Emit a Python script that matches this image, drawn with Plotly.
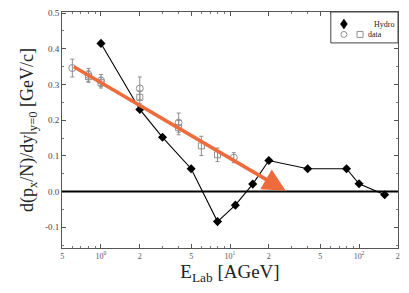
import math
import plotly.graph_objects as go

# Hydro calculation
hydro_x = [1.0, 2.0, 3.0, 5.0, 8.0, 11.0, 15.0, 20.0, 40.0, 80.0, 100.0, 158.0]
hydro_y = [0.415, 0.23, 0.152, 0.064, -0.084, -0.038, 0.021, 0.087, 0.064, 0.064, 0.022, -0.009]

# Data (open circles)
circ_x = [0.6, 0.8, 1.0, 2.0, 4.0, 10.7]
circ_y = [0.346, 0.327, 0.311, 0.289, 0.193, 0.095]
circ_err = [0.025, 0.018, 0.017, 0.032, 0.027, 0.014]

# Data (open squares)
sq_x = [0.8, 1.0, 2.0, 4.0, 6.0, 8.0]
sq_y = [0.322, 0.305, 0.264, 0.179, 0.128, 0.103]
sq_err = [0.016, 0.015, 0.018, 0.02, 0.027, 0.019]

# Arrow (tail, head) in data units
arrow_tail = [0.6, 0.352]
arrow_head = [27.0, 0.002]

x_tickvals = [0.5, 1, 2, 5, 10, 20, 50, 100, 200]
x_ticktext = ["5", "10<sup>0</sup>", "2", "5", "10<sup>1</sup>", "2", "5", "10<sup>2</sup>", "2"]
x_minor = [0.6, 0.7, 0.8, 0.9, 3, 4, 6, 7, 8, 9, 30, 40, 60, 70, 80, 90]
y_tickvals = [-0.1, 0.0, 0.1, 0.2, 0.3, 0.4, 0.5]
y_ticktext = ["-0.1", "0.0", "0.1", "0.2", "0.3", "0.4", "0.5"]
y_minor = [-0.15, -0.05, 0.05, 0.15, 0.25, 0.35, 0.45]

serif = "Liberation Serif"
gray = "#8f8f8f"

fig = go.Figure()

fig.add_trace(go.Scatter(
    x=circ_x, y=circ_y, mode="markers", name="data",
    marker=dict(symbol="circle-open", size=7, color=gray, line=dict(width=1)),
    error_y=dict(type="data", array=circ_err, color=gray, thickness=1, width=2),
))
fig.add_trace(go.Scatter(
    x=sq_x, y=sq_y, mode="markers", name="data",
    marker=dict(symbol="square-open", size=6, color=gray, line=dict(width=1)),
    error_y=dict(type="data", array=sq_err, color=gray, thickness=1, width=2),
))
fig.add_trace(go.Scatter(
    x=hydro_x, y=hydro_y, mode="lines+markers", name="Hydro",
    line=dict(color="black", width=1.1),
    marker=dict(symbol="diamond", size=7, color="black"),
))

# zero line
fig.add_shape(type="line", xref="paper", yref="y", x0=0, x1=1, y0=0, y1=0,
              line=dict(color="black", width=2))

# orange arrow (annotation positions on log axis are given in log10 units)
fig.add_annotation(
    x=math.log10(arrow_head[0]), y=arrow_head[1],
    ax=math.log10(arrow_tail[0]), ay=arrow_tail[1],
    xref="x", yref="y", axref="x", ayref="y",
    showarrow=True, arrowhead=2, arrowsize=1.3, arrowwidth=3.5,
    arrowcolor="#EE6B3B", text="",
)

# legend box
fig.add_shape(type="rect", xref="paper", yref="paper", x0=0.80, x1=1.0, y0=0.869, y1=1.0,
              line=dict(color="#444", width=1), fillcolor="white", layer="above")
fig.add_shape(type="path", xref="paper", yref="paper", xsizemode="pixel", ysizemode="pixel",
              xanchor=0.839, yanchor=0.949,
              path="M 0 -5 L 3.5 0 L 0 5 L -3.5 0 Z",
              fillcolor="black", line=dict(color="black", width=0.5), layer="above")
fig.add_shape(type="circle", xref="paper", yref="paper", xsizemode="pixel", ysizemode="pixel",
              xanchor=0.839, yanchor=0.905, x0=-3, x1=3, y0=-3, y1=3,
              line=dict(color=gray, width=1), layer="above")
fig.add_shape(type="rect", xref="paper", yref="paper", xsizemode="pixel", ysizemode="pixel",
              xanchor=0.887, yanchor=0.905, x0=-3, x1=3, y0=-3, y1=3,
              line=dict(color=gray, width=1), layer="above")
fig.add_annotation(xref="paper", yref="paper", x=0.993, y=0.949, text="Hydro", showarrow=False,
                   xanchor="right", yanchor="middle", font=dict(size=8, color="#222", family=serif))
fig.add_annotation(xref="paper", yref="paper", x=0.905, y=0.905, text="data", showarrow=False,
                   xanchor="left", yanchor="middle", font=dict(size=8, color="#222", family=serif))

fig.update_xaxes(
    type="log", range=[-0.302, 2.302],
    tickmode="array", tickvals=x_tickvals, ticktext=x_ticktext,
    ticks="inside", ticklen=4, tickcolor="#555",
    minor=dict(tickvals=x_minor, ticks="inside", ticklen=2, tickcolor="#777"),
    showline=True, linecolor="#555", linewidth=1, mirror="ticks",
    showgrid=False, zeroline=False,
    tickfont=dict(family=serif, size=8, color="#555"),
    title=dict(text="E<sub>Lab</sub> [AGeV]", font=dict(family=serif, size=19, color="#222"), standoff=2),
    automargin=False,
)
fig.update_yaxes(
    range=[-0.158, 0.503],
    tickmode="array", tickvals=y_tickvals, ticktext=y_ticktext,
    ticks="inside", ticklen=4, tickcolor="#555",
    minor=dict(tickvals=y_minor, ticks="inside", ticklen=2, tickcolor="#777"),
    showline=True, linecolor="#555", linewidth=1, mirror="ticks",
    showgrid=False, zeroline=False,
    tickfont=dict(family=serif, size=9, color="#444"),
    title=dict(text="d(p<sub>x</sub>/N)/dy|<sub>y=0</sub> [GeV/c]",
               font=dict(family=serif, size=18, color="#222"), standoff=6),
    automargin=False,
)

fig.update_layout(
    width=409, height=293,
    margin=dict(l=62, r=11, t=12, b=45),
    plot_bgcolor="white", paper_bgcolor="white",
    showlegend=False,
)

fig.write_html("out.html", config={"displayModeBar": False},
               post_script="document.body.style.margin='0';")
